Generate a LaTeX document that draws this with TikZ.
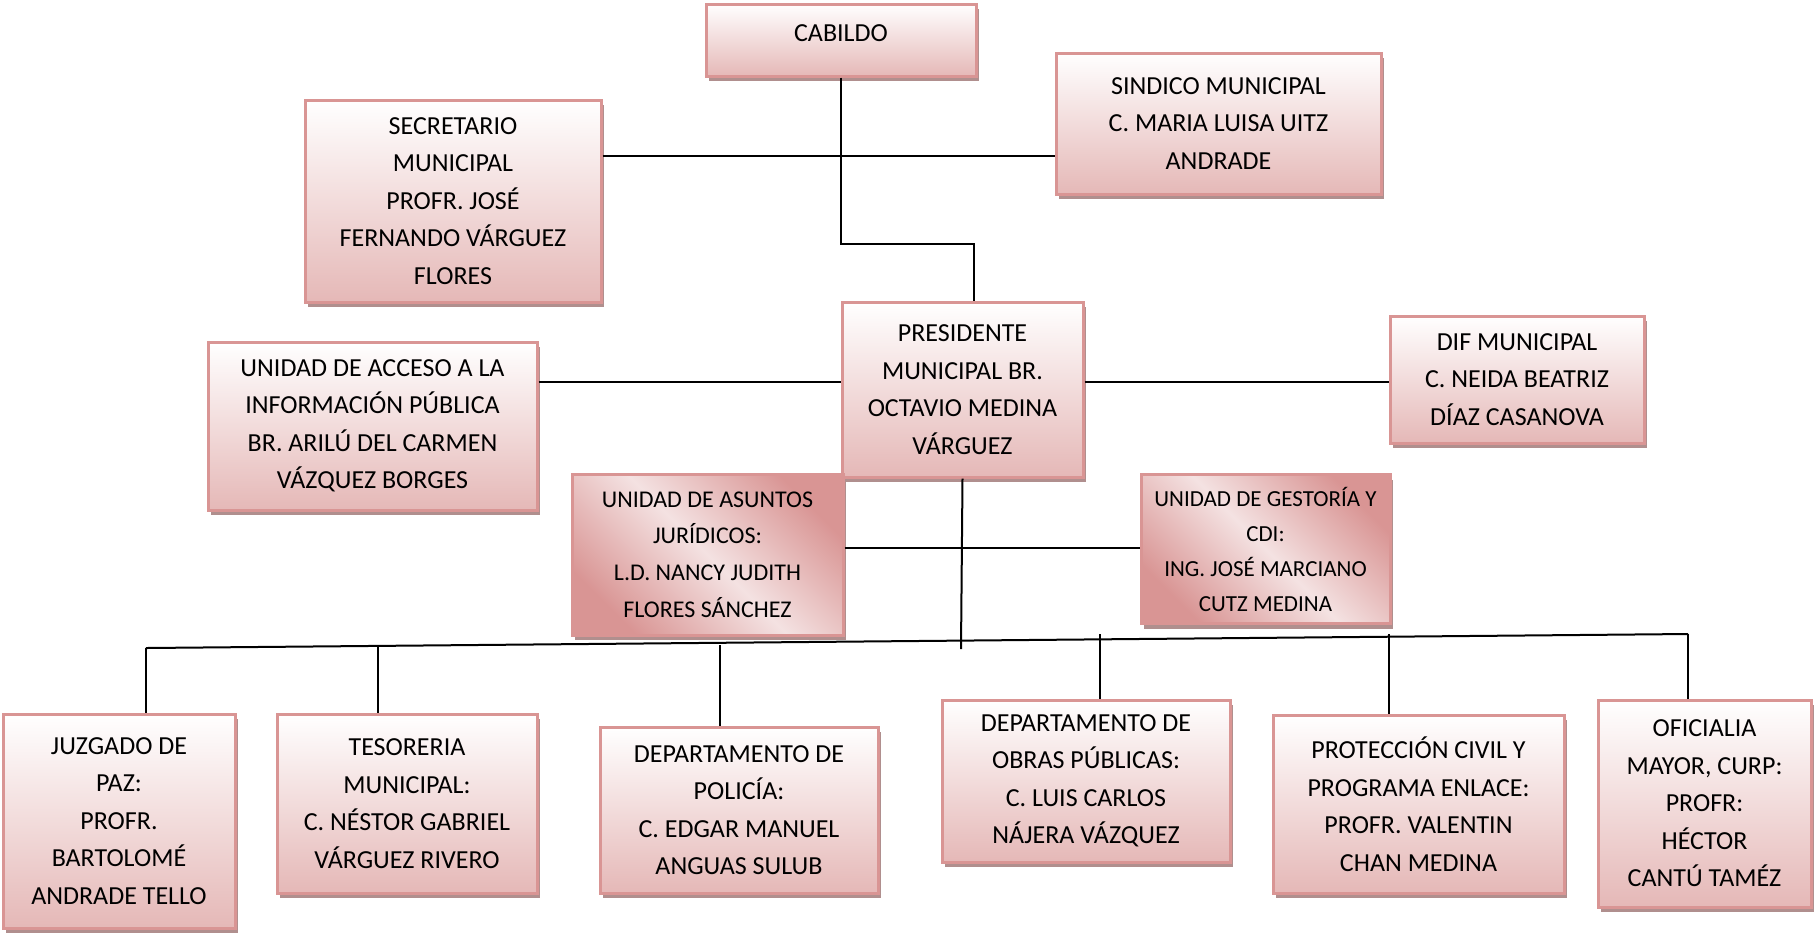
\documentclass[tikz,border=0pt]{standalone}
\usepackage{fontspec}
\setmainfont{Carlito}
\usetikzlibrary{shadows}
\definecolor{borderPink}{HTML}{D99594}
\definecolor{fillPink}{HTML}{E5B8B7}
\definecolor{shadowPink}{HTML}{B08F8E}
\definecolor{lightPink}{HTML}{F4E2E2}

\begin{document}
\begin{tikzpicture}
[x=0.5pt, y=-0.5pt,
 lineDecorate/.style={line width=1pt},
 boxDecorate/.style={shape=rectangle, draw=borderPink, line width=1.5pt, top color=white, bottom color=fillPink,
   drop shadow={shadow xshift=1.5pt, shadow yshift=-2.5pt, fill=shadowPink, opacity=1},
   align=center, inner sep=0pt, font=\fontsize{13}{18.75}\selectfont},
 diagDecorate/.style={boxDecorate, left color=borderPink, right color=borderPink, middle color=lightPink, shading angle=135}]

 \useasboundingbox (0,0) rectangle (1815,934);

 % top part
 \node[boxDecorate, minimum width=135pt, minimum height=36pt, text depth=7pt] (cab) at (841,40) {CABILDO};
 \node[boxDecorate, minimum width=162.5pt, minimum height=70.5pt] (sin) at (1218.5,123.5) {SINDICO MUNICIPAL\\C. MARIA LUISA UITZ\\ANDRADE};
 \node[boxDecorate, minimum width=148pt, minimum height=101pt] (sec) at (453,201) {SECRETARIO\\MUNICIPAL\\PROFR. JOSÉ\\FERNANDO VÁRGUEZ\\FLORES};
 \node[boxDecorate, minimum width=120.5pt, minimum height=87.5pt] (pres) at (962.5,389.5) {PRESIDENTE\\MUNICIPAL BR.\\OCTAVIO MEDINA\\VÁRGUEZ};
 \node[boxDecorate, minimum width=164.5pt, minimum height=84pt] (acc) at (372.5,426) {UNIDAD DE ACCESO A LA\\INFORMACIÓN PÚBLICA\\BR. ARILÚ DEL CARMEN\\VÁZQUEZ BORGES};
 \node[boxDecorate, minimum width=127pt, minimum height=63.5pt] (dif) at (1517,379.5) {DIF MUNICIPAL\\C. NEIDA BEATRIZ\\DÍAZ CASANOVA};
 \node[diagDecorate, minimum width=135.5pt, minimum height=80.5pt, font=\fontsize{12}{18.3}\selectfont] (asu) at (707.5,554.5) {UNIDAD DE ASUNTOS\\JURÍDICOS:\\L.D. NANCY JUDITH\\FLORES SÁNCHEZ};
 \node[diagDecorate, minimum width=124.5pt, minimum height=74.5pt, font=\fontsize{11.5}{17.5}\selectfont] (ges) at (1265.5,549) {UNIDAD DE GESTORÍA Y\\CDI:\\ING. JOSÉ MARCIANO\\CUTZ MEDINA};

 % bottom row
 \node[boxDecorate, minimum width=116pt, minimum height=107pt] (juz) at (119,821) {JUZGADO DE\\PAZ:\\PROFR.\\BARTOLOMÉ\\ANDRADE TELLO};
 \node[boxDecorate, minimum width=130pt, minimum height=89.5pt] (tes) at (407,803.5) {TESORERIA\\MUNICIPAL:\\C. NÉSTOR GABRIEL\\VÁRGUEZ RIVERO};
 \node[boxDecorate, minimum width=139pt, minimum height=83pt] (pol) at (739,810) {DEPARTAMENTO DE\\POLICÍA:\\C. EDGAR MANUEL\\ANGUAS SULUB};
 \node[boxDecorate, minimum width=144pt, minimum height=81pt] (obr) at (1086,781) {DEPARTAMENTO DE\\OBRAS PÚBLICAS:\\C. LUIS CARLOS\\NÁJERA VÁZQUEZ};
 \node[boxDecorate, minimum width=145.5pt, minimum height=89pt] (pro) at (1418.5,804) {PROTECCIÓN CIVIL Y\\PROGRAMA ENLACE:\\PROFR. VALENTIN\\CHAN MEDINA};
 \node[boxDecorate, minimum width=106.5pt, minimum height=103.5pt] (ofi) at (1704.5,803.5) {OFICIALIA\\MAYOR, CURP:\\PROFR:\\HÉCTOR\\CANTÚ TAMÉZ};

 % lines
 \coordinate (cabTurn) at (841,244);
 \coordinate (topLine) at (841,156);
 \coordinate (midLine) at (962,382);
 \coordinate (lowLine) at (960,548);
 \coordinate (presEnd) at (961,649);
 \coordinate (busL) at (146,648);
 \coordinate (busR) at (1688,634);

 \draw[lineDecorate] (cab.south) -- (cabTurn) -| ([xshift=5.75pt]pres.north);
 \draw[lineDecorate] (sec.east |- topLine) -- (sin.west |- topLine);
 \draw[lineDecorate] (acc.east |- midLine) -- (pres.west |- midLine);
 \draw[lineDecorate] (pres.east |- midLine) -- (dif.west |- midLine);
 \draw[lineDecorate] (pres.south) -- (presEnd);
 \draw[lineDecorate] (asu.east |- lowLine) -- (ges.west |- lowLine);
 \draw[lineDecorate] (busL) -- (busR);

 \foreach \nodename/\x/\y in {juz/146/648, tes/378/647, pol/720/645, obr/1100/634, pro/1389/634, ofi/1688/634}
 {
   \coordinate (drop) at (\x,\y);
   \draw[lineDecorate] (drop) -- (\nodename.north -| drop);
 }
\end{tikzpicture}
\end{document}
